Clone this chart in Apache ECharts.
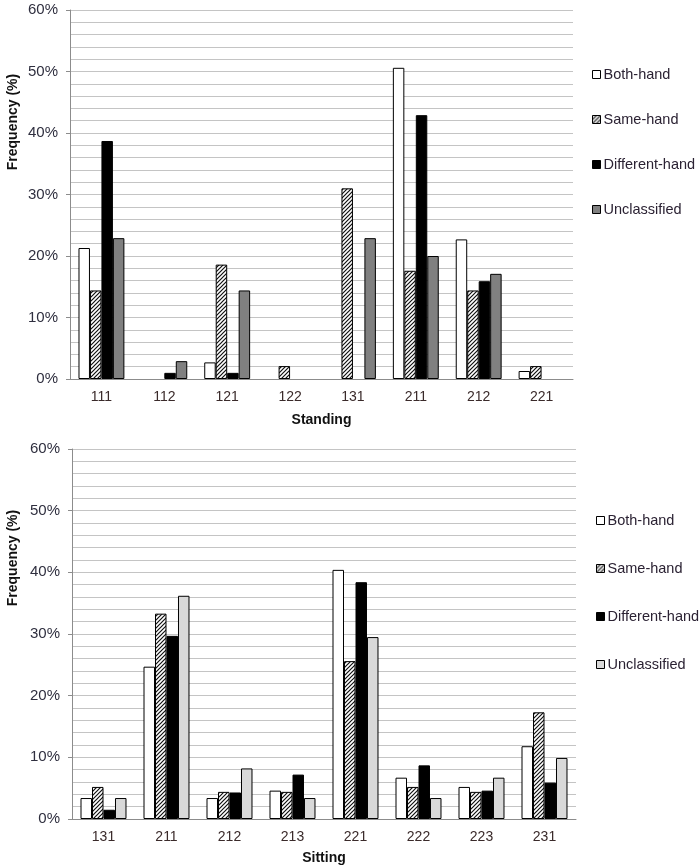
<!DOCTYPE html>
<html>
<head>
<meta charset="utf-8">
<script src="https://cdn.jsdelivr.net/npm/echarts@6/dist/echarts.min.js"></script>
<style>
	html, body { margin: 0; padding: 0; background: #fff; }
	#chart { width: 700px; height: 868px; }
</style>
</head>
<body>
<div id="chart"></div>
<script>
// data (percent)
const seriesNames = ["Both-hand", "Same-hand", "Different-hand", "Unclassified"]

const standingCats = ["111", "112", "121", "122", "131", "211", "212", "221"]
const standingBoth = [21.3, 0, 2.7, 0, 0, 50.6, 22.7, 1.3]
const standingSame = [14.4, 0, 18.6, 2.1, 31.0, 17.6, 14.4, 2.1]
const standingDiff = [38.7, 1.0, 1.0, 0, 0, 42.9, 15.9, 0]
const standingUncl = [22.9, 2.9, 14.4, 0, 22.9, 20.0, 17.1, 0]

const sittingCats = ["131", "211", "212", "213", "221", "222", "223", "231"]
const sittingBoth = [3.4, 24.7, 3.4, 4.6, 40.4, 6.7, 5.2, 11.8]
const sittingSame = [5.2, 33.3, 4.4, 4.4, 25.6, 5.2, 4.4, 17.3]
const sittingDiff = [1.5, 29.7, 4.3, 7.2, 38.4, 8.7, 4.6, 5.9]
const sittingUncl = [3.4, 36.2, 8.2, 3.4, 29.5, 3.4, 6.7, 9.9]

const yTicks = { min: 0, max: 60, interval: 10 }

const font = "Liberation Sans, Arial, sans-serif"

// diagonal hatch for "Same-hand"
const makeHatch = () => {
	let c = document.createElement("canvas")
	c.width = 4
	c.height = 4
	let ctx = c.getContext("2d")
	ctx.fillStyle = "#fff"
	ctx.fillRect(0, 0, 4, 4)
	ctx.strokeStyle = "#111"
	ctx.lineWidth = 1.2
	ctx.beginPath()
	ctx.moveTo(-1, 5)
	ctx.lineTo(5, -1)
	ctx.moveTo(-1, 1)
	ctx.lineTo(1, -1)
	ctx.moveTo(3, 5)
	ctx.lineTo(5, 3)
	ctx.stroke()
	return { image: c, repeat: "repeat" }
}
const hatch = makeHatch()

const barStyle = (color) => ({ color: color, borderColor: "#000", borderWidth: 1 })

// zero values are left empty so no border line is drawn
const makeBars = (idx, data, colors) =>
	seriesNames.map((name, i) => ({
		name: name,
		type: "bar",
		xAxisIndex: idx,
		yAxisIndex: idx,
		barGap: "0%",
		barCategoryGap: "27%",
		itemStyle: barStyle(colors[i]),
		emphasis: { disabled: true },
		data: data[i].map(v => (v === 0 ? null : v))
	}))

const xAxisFor = (idx, cats, name, gap) => ({
	type: "category",
	gridIndex: idx,
	data: cats,
	name: name,
	nameLocation: "middle",
	nameGap: gap,
	nameTextStyle: { fontFamily: font, fontWeight: "bold", fontSize: 14, color: "#111" },
	axisLine: { lineStyle: { color: "#8c8c8c", width: 1 } },
	axisTick: { inside: true, length: 5, lineStyle: { color: "#8c8c8c" } },
	axisLabel: { margin: 11, fontFamily: font, fontSize: 14, color: "#3a2a2a" }
})

const yAxisFor = (idx) => ({
	type: "value",
	gridIndex: idx,
	min: yTicks.min,
	max: yTicks.max,
	interval: yTicks.interval,
	axisLine: { show: true, lineStyle: { color: "#8c8c8c", width: 1 } },
	axisTick: { show: true, length: 4, lineStyle: { color: "#8c8c8c" } },
	axisLabel: { margin: 12, fontFamily: font, fontSize: 15, color: "#2f2f3f", formatter: "{value}%" },
	splitLine: { show: true, lineStyle: { color: "#c4c4c4", width: 1.2 } },
	minorTick: { show: false, splitNumber: 5 },
	minorSplitLine: { show: true, lineStyle: { color: "#c4c4c4", width: 1.2 } }
})

const legendFor = (left, top, gap, unclColor) => ({
	orient: "vertical",
	left: left,
	top: top,
	itemGap: gap,
	itemWidth: 8,
	itemHeight: 8,
	icon: "rect",
	selectedMode: false,
	textStyle: { fontFamily: font, fontSize: 14.5, color: "#2b2233", padding: [0, 0, 0, -2] },
	data: [
		{ name: "Both-hand", itemStyle: barStyle("#fff") },
		{ name: "Same-hand", itemStyle: barStyle(hatch) },
		{ name: "Different-hand", itemStyle: barStyle("#000") },
		{ name: "Unclassified", itemStyle: barStyle(unclColor) }
	]
})

const yName = (x, y) => ({
	type: "text",
	x: x,
	y: y,
	rotation: Math.PI / 2,
	style: {
		text: "Frequency (%)",
		fontFamily: font,
		fontWeight: "bold",
		fontSize: 14,
		fill: "#111",
		align: "center",
		verticalAlign: "middle"
	}
})

let chart = echarts.init(document.getElementById("chart"))

let option = {
	animation: false,
	backgroundColor: "#fff",
	grid: [
		{ left: 70, top: 10, width: 503, height: 369 },
		{ left: 72, top: 449, width: 504, height: 370 }
	],
	xAxis: [xAxisFor(0, standingCats, "Standing", 34), xAxisFor(1, sittingCats, "Sitting", 32)],
	yAxis: [yAxisFor(0), yAxisFor(1)],
	legend: [legendFor(587, 62, 30, "#808080"), legendFor(591, 508, 33, "#d9d9d9")],
	graphic: [yName(13, 122), yName(13, 558)],
	series: [
		...makeBars(0, [standingBoth, standingSame, standingDiff, standingUncl], ["#fff", hatch, "#000", "#808080"]),
		...makeBars(1, [sittingBoth, sittingSame, sittingDiff, sittingUncl], ["#fff", hatch, "#000", "#d9d9d9"])
	]
}
chart.setOption(option)
</script>
</body>
</html>
